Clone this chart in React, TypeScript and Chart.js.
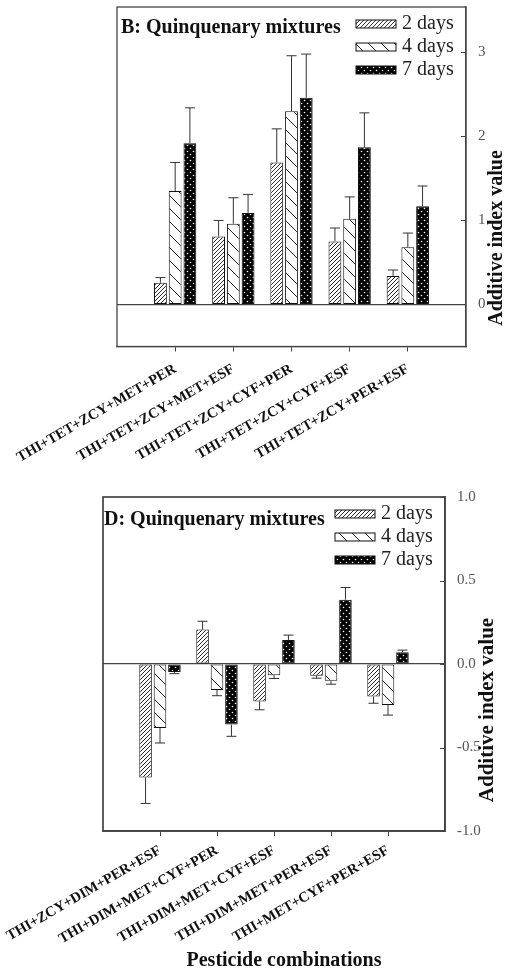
import React, { useEffect, useRef } from 'react';
import { Chart, registerables } from 'chart.js';
Chart.register(...registerables);

const seriesNames = ['2 days', '4 days', '7 days'];

const categoriesB = ['THI+TET+ZCY+MET+PER', 'THI+TET+ZCY+MET+ESF', 'THI+TET+ZCY+CYF+PER', 'THI+TET+ZCY+CYF+ESF', 'THI+TET+ZCY+PER+ESF'];
const b2 = [0.26, 0.81, 1.69, 0.75, 0.34];
const b4 = [1.35, 0.96, 2.30, 1.02, 0.68];
const b7 = [1.92, 1.09, 2.46, 1.87, 1.17];
const b2Err = [0.06, 0.19, 0.40, 0.16, 0.07];
const b4Err = [0.34, 0.31, 0.66, 0.26, 0.17];
const b7Err = [0.42, 0.22, 0.52, 0.41, 0.24];
const bTicks = [0, 1, 2, 3];

const categoriesD = ['THI+ZCY+DIM+PER+ESF', 'THI+DIM+MET+CYF+PER', 'THI+DIM+MET+CYF+ESF', 'THI+DIM+MET+PER+ESF', 'THI+MET+CYF+PER+ESF'];
const d2 = [-0.68, 0.206, -0.224, -0.071, -0.195];
const d4 = [-0.383, -0.155, -0.067, -0.101, -0.246];
const d7 = [-0.048, -0.363, 0.143, 0.385, 0.071];
const d2Err = [0.155, 0.05, 0.05, 0.014, 0.04];
const d4Err = [0.09, 0.035, 0.02, 0.02, 0.06];
const d7Err = [0.01, 0.07, 0.03, 0.073, 0.012];
const dTicks = [-1, -0.5, 0, 0.5, 1];

const FAMILY = '"Liberation Serif", "Times New Roman", serif';
const W = 509;

function makePatterns() {
  const mk = (size: number, draw: (c: CanvasRenderingContext2D) => void) => {
    const cv = document.createElement('canvas');
    cv.width = size; cv.height = size;
    const c = cv.getContext('2d')!;
    draw(c);
    return c.createPattern(cv, 'repeat')!;
  };
  const p2 = mk(4, (c) => {
    c.fillStyle = '#fff'; c.fillRect(0, 0, 4, 4);
    c.strokeStyle = '#2a2a2a'; c.lineWidth = 1;
    c.beginPath();
    c.moveTo(-1, 5); c.lineTo(5, -1);
    c.moveTo(-1, 1); c.lineTo(1, -1);
    c.moveTo(3, 5); c.lineTo(5, 3);
    c.stroke();
  });
  const p4 = mk(13, (c) => {
    c.fillStyle = '#fff'; c.fillRect(0, 0, 13, 13);
    c.strokeStyle = '#222'; c.lineWidth = 1;
    c.beginPath();
    c.moveTo(-1, -1); c.lineTo(14, 14);
    c.moveTo(-1, 12); c.lineTo(1, 14);
    c.moveTo(12, -1); c.lineTo(14, 1);
    c.stroke();
  });
  const p7 = mk(6, (c) => {
    c.fillStyle = '#000'; c.fillRect(0, 0, 6, 6);
    c.fillStyle = '#fff';
    c.beginPath(); c.arc(1.5, 1.5, 0.8, 0, Math.PI * 2); c.fill();
    c.beginPath(); c.arc(4.5, 4.5, 0.8, 0, Math.PI * 2); c.fill();
  });
  return [p2, p4, p7];
}

type Spec = {
  top: number; height: number;
  area: { left: number; right: number; top: number; bottom: number };
  yMin: number; yMax: number; ticks: number[]; fmt: (v: number) => string;
  cats: string[]; series: number[][]; errs: number[][];
  label: string; labelDx: number; labelDy: number; xPad: number; frame: number;
  yTitle: { x: number; y: number; size: number };
  xTitle?: { text: string; x: number; y: number };
};

function Panel({ spec }: { spec: Spec }) {
  const ref = useRef<HTMLCanvasElement>(null);
  useEffect(() => {
    const patterns = makePatterns();
    const { area } = spec;
    const ink = '#444';
    const decor = {
      id: 'decor',
      afterDatasetsDraw(chart: any) {
        const ctx = chart.ctx;
        const ys = chart.scales.y;
        ctx.save();
        ctx.strokeStyle = '#333';
        ctx.lineWidth = 1;
        spec.series.forEach((vals, i) => {
          const meta = chart.getDatasetMeta(i);
          meta.data.forEach((el: any, j: number) => {
            const v = vals[j];
            const e = spec.errs[i][j];
            const end = ys.getPixelForValue(v + (v >= 0 ? e : -e));
            ctx.beginPath();
            ctx.moveTo(el.x, el.y);
            ctx.lineTo(el.x, end);
            ctx.moveTo(el.x - 5, end);
            ctx.lineTo(el.x + 5, end);
            ctx.stroke();
          });
        });
        ctx.restore();
      },
      afterDraw(chart: any) {
        const ctx = chart.ctx;
        const ca = chart.chartArea;
        const ys = chart.scales.y;
        ctx.save();
        ctx.strokeStyle = ink;
        ctx.lineWidth = spec.frame;
        ctx.strokeRect(ca.left, ca.top, ca.right - ca.left, ca.bottom - ca.top);
        // inward y ticks
        ctx.beginPath();
        spec.ticks.forEach((v) => {
          const py = Math.round(ys.getPixelForValue(v)) + 0.5;
          ctx.moveTo(ca.right - 5, py);
          ctx.lineTo(ca.right, py);
        });
        ctx.lineWidth = 1;
        ctx.stroke();
        ctx.fillStyle = '#111';
        ctx.font = `bold 20px ${FAMILY}`;
        ctx.textBaseline = 'alphabetic';
        ctx.textAlign = 'left';
        ctx.fillText(spec.label, ca.left + spec.labelDx, ca.top + spec.labelDy);
        seriesNames.forEach((name, k) => {
          const yc = ca.top + 17 + 23 * k;
          const sx = ca.right - 110;
          ctx.fillStyle = patterns[k];
          ctx.fillRect(sx, yc - 4, 40, 8);
          ctx.strokeStyle = '#111';
          ctx.lineWidth = 1;
          ctx.strokeRect(sx, yc - 4, 40, 8);
          ctx.fillStyle = '#222';
          ctx.font = `20px ${FAMILY}`;
          ctx.textBaseline = 'middle';
          ctx.fillText(name, ca.right - 64, yc);
        });
        ctx.fillStyle = '#111';
        ctx.font = `bold ${spec.yTitle.size}px ${FAMILY}`;
        ctx.textAlign = 'center';
        ctx.textBaseline = 'middle';
        ctx.save();
        ctx.translate(spec.yTitle.x, spec.yTitle.y);
        ctx.rotate(-Math.PI / 2);
        ctx.fillText('Additive index value', 0, 0);
        ctx.restore();
        if (spec.xTitle) {
          ctx.font = `bold 20px ${FAMILY}`;
          ctx.fillText(spec.xTitle.text, spec.xTitle.x, spec.xTitle.y);
        }
        ctx.restore();
      },
    };
    const chart = new Chart(ref.current!, {
      type: 'bar',
      data: {
        datasets: spec.series.map((vals, i) => ({
          label: seriesNames[i],
          data: vals.map((v, j) => ({ x: j + 1, y: v })),
          backgroundColor: patterns[i],
          borderColor: '#111',
          borderWidth: 1,
          borderSkipped: false,
          categoryPercentage: 0.76,
          barPercentage: 0.87,
        })) as any,
      },
      options: {
        animation: false,
        responsive: false,
        devicePixelRatio: 1,
        layout: { padding: { left: area.left, top: area.top, right: 0, bottom: 0 } },
        plugins: { legend: { display: false }, tooltip: { enabled: false } },
        scales: {
          x: {
            type: 'linear', min: 0, max: 6, position: 'bottom', offset: false,
            afterBuildTicks: (s: any) => { s.ticks = spec.cats.map((_, i) => ({ value: i + 1 })); },
            afterFit: (s: any) => { s.height = spec.height - area.bottom; s.paddingLeft = 0; s.paddingRight = 0; },
            grid: { offset: false, drawOnChartArea: false, drawTicks: true, tickLength: 5, color: ink, tickColor: ink },
            border: { display: true, color: ink, width: spec.frame },
            ticks: {
              autoSkip: false, maxRotation: 30, minRotation: 30, padding: spec.xPad, color: '#111',
              font: { family: FAMILY, size: 14.5, weight: 'bold' },
              callback: (v: any) => spec.cats[Math.round(v) - 1] ?? '',
            },
          },
          y: {
            type: 'linear', position: 'right', min: spec.yMin, max: spec.yMax,
            afterBuildTicks: (s: any) => { s.ticks = spec.ticks.map((v) => ({ value: v })); },
            afterFit: (s: any) => { s.width = W - area.right; s.paddingTop = 0; s.paddingBottom = 0; },
            grid: {
              drawOnChartArea: true, drawTicks: false, lineWidth: 1.2,
              color: (c: any) => (c.tick && c.tick.value === 0 ? ink : 'rgba(0,0,0,0)'),
            },
            border: { display: true, color: ink, width: spec.frame },
            ticks: {
              padding: 12, color: '#555', font: { family: FAMILY, size: 15 },
              callback: (v: any) => spec.fmt(Number(v)),
            },
          },
        },
      } as any,
      plugins: [decor],
    });
    return () => chart.destroy();
  }, [spec]);
  return (
    <canvas
      ref={ref}
      width={W}
      height={spec.height}
      style={{ position: 'absolute', left: 0, top: spec.top, width: W, height: spec.height }}
    />
  );
}

const specB: Spec = {
  top: 0, height: 480,
  area: { left: 117, right: 466, top: 7, bottom: 346.5 },
  yMin: -0.5, yMax: 3.54, ticks: bTicks, fmt: (v) => String(v),
  cats: categoriesB, series: [b2, b4, b7], errs: [b2Err, b4Err, b7Err],
  label: 'B: Quinquenary mixtures', labelDx: 4, labelDy: 26, xPad: 9, frame: 1.3,
  yTitle: { x: 497, y: 238, size: 20 },
};

const specD: Spec = {
  top: 480, height: 492,
  area: { left: 103, right: 445, top: 17, bottom: 351 },
  yMin: -1, yMax: 1, ticks: dTicks, fmt: (v) => v.toFixed(1),
  cats: categoriesD, series: [d2, d4, d7], errs: [d2Err, d4Err, d7Err],
  label: 'D: Quinquenary mixtures', labelDx: 1, labelDy: 28, xPad: 6, frame: 1.7,
  yTitle: { x: 488, y: 230, size: 21 },
  xTitle: { text: 'Pesticide combinations', x: 284, y: 481 },
};

export default function App() {
  return (
    <div style={{ position: 'absolute', left: 0, top: 0, width: W, height: 972, background: '#fff' }}>
      <Panel spec={specB} />
      <Panel spec={specD} />
    </div>
  );
}
